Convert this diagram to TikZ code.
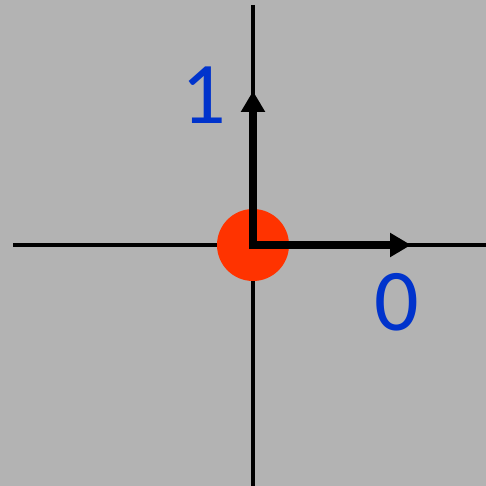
\documentclass[tikz,border=0pt]{standalone}
\usepackage{fontspec}
\setmainfont{Carlito}
\usetikzlibrary{arrows.meta}
\definecolor{bggray}{HTML}{B3B3B3}
\definecolor{dotred}{HTML}{FF3300}
\definecolor{lblblue}{HTML}{0033CC}
\tikzset{
  axisline/.style={line width=3.5pt, black},
  vecline/.style={line width=8pt, black, -{Triangle[length=21pt,width=23pt]}},
  lbl/.style={text=lblblue, font=\fontsize{88}{88}\selectfont, inner sep=0pt, anchor=base},
}
\begin{document}
\begin{tikzpicture}[x=1pt,y=-1pt]
\fill[bggray] (0,0) rectangle (486,486);
\useasboundingbox (0,0) rectangle (486,486);
\coordinate (O) at (253,245);
\coordinate (L) at (13,245);
\coordinate (R) at (486,245);
\coordinate (T) at (253,5);
\coordinate (B) at (253,486);
\coordinate (TipX) at (411,245);
\coordinate (TipY) at (253,91);
\coordinate (SX) at (249,245);
\coordinate (SY) at (253,249);
\draw[axisline] (L) -- (R);
\draw[axisline] (T) -- (B);
\node[circle, fill=dotred, minimum size=72pt, inner sep=0pt] (dot) at (O) {};
\draw[vecline] (SX) -- (TipX);
\draw[vecline] (SY) -- (TipY);
\node[lbl] (one) at (204,124) {1};
\node[lbl] (zero) at (397,330) {0};
\end{tikzpicture}
\end{document}
